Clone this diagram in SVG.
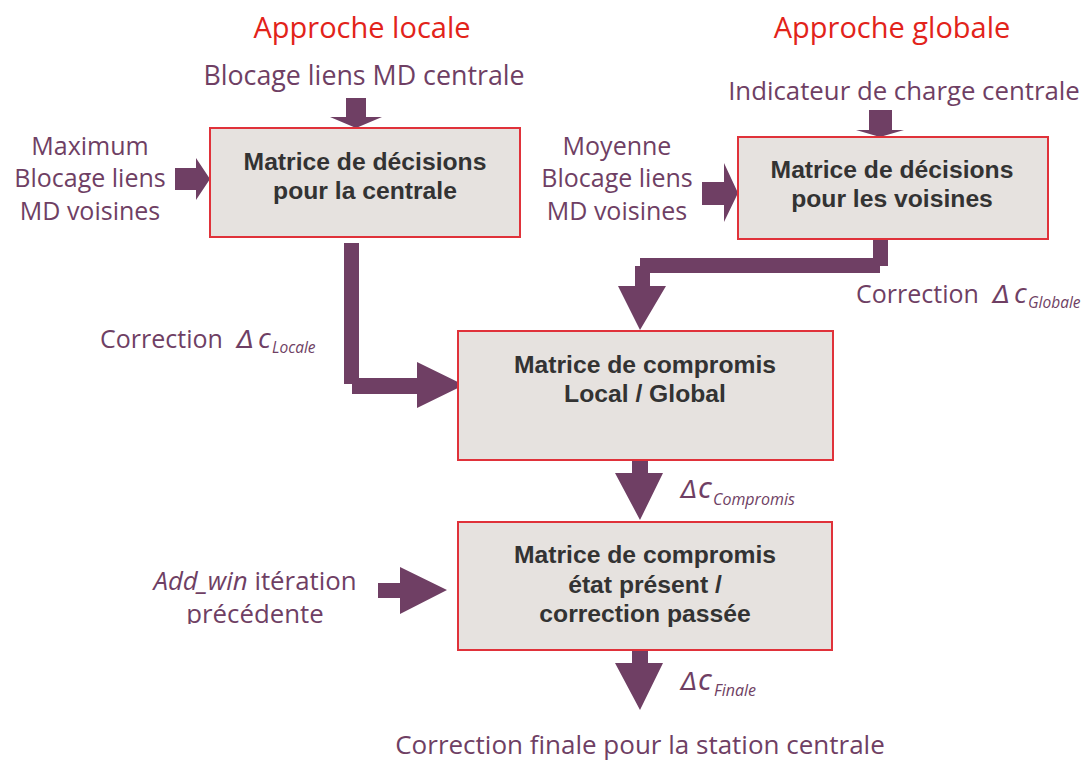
<svg xmlns="http://www.w3.org/2000/svg" width="1082" height="760" viewBox="0 0 1082 760">
<style>
.box{fill:#e6e2df;stroke:#e0323a;stroke-width:2}
.bt{font-family:"Liberation Sans",Arial,sans-serif;font-weight:bold;font-size:24.7px;fill:#333333;text-anchor:middle}
.lbl{font-family:"Open Sans","Noto Sans",sans-serif;font-size:25px;fill:#6f3f64}
.ttl{font-family:"Open Sans","Noto Sans",sans-serif;font-size:29px;fill:#e2231a;text-anchor:middle}
.mid{text-anchor:middle}
.it{font-style:italic}
.dl{font-family:"DejaVu Sans","Open Sans",sans-serif;font-style:italic;font-weight:200;fill:#6f3f64}
.arr{fill:#6f3f64}
</style>
<defs>
<clipPath id="clipPrec"><rect x="0" y="560" width="450" height="64"/></clipPath>
</defs>
<rect width="1082" height="760" fill="#ffffff"/>

<g id="titles">
<text class="ttl" x="362" y="38">Approche locale</text>
<text class="ttl" x="892" y="38">Approche globale</text>
</g>

<g id="connectors">
<polygon class="arr" points="346,98 366,98 366,117 382,117 356,128 330,117 346,117"/>
<polygon class="arr" points="175,168 196,168 196,158 210,179 196,200 196,190 175,190"/>
<polygon class="arr" points="869,110 892,110 892,130 904,130 880,137 856,130 869,130"/>
<polygon class="arr" points="702,182 724,182 724,163 738,193 724,222 724,205 702,205"/>
<polygon class="arr" points="344,243 359,243 359,378 417,378 417,362 464,385 417,408 417,394 352,394 352,384 344,384"/>
<polygon class="arr" points="873,238 888,238 888,266 880,266 880,273 650,273 650,286 666,286 640,330 618,286 635,286 635,266 640,266 640,258 873,258"/>
<polygon class="arr" points="632,460 648,460 648,473 663,473 640,520 615,473 632,473"/>
<polygon class="arr" points="632,650 648,650 648,663 663,663 640,710 615,663 632,663"/>
<polygon class="arr" points="378,583 400,583 400,567 447,590 400,614 400,598 378,598"/>
</g>

<g id="in-centrale">
<text class="lbl mid" x="364" y="85" style="font-size:26.8px">Blocage liens MD centrale</text>
</g>
<g id="in-max">
<text class="lbl mid" x="90" y="155">Maximum</text>
<text class="lbl mid" x="90" y="187">Blocage liens</text>
<text class="lbl mid" x="90" y="220">MD voisines</text>
</g>
<g id="in-charge">
<text class="lbl mid" x="904" y="100" style="font-size:25.8px">Indicateur de charge centrale</text>
</g>
<g id="in-moy">
<text class="lbl mid" x="617" y="155">Moyenne</text>
<text class="lbl mid" x="617" y="187">Blocage liens</text>
<text class="lbl mid" x="617" y="220">MD voisines</text>
</g>

<g id="node-centrale">
<rect class="box" x="210" y="128" width="310" height="109"/>
<text class="bt" x="365" y="170">Matrice de décisions</text>
<text class="bt" x="365" y="199">pour la centrale</text>
</g>
<g id="node-voisines">
<rect class="box" x="738" y="137" width="310" height="102"/>
<text class="bt" x="892" y="178">Matrice de décisions</text>
<text class="bt" x="892" y="207">pour les voisines</text>
</g>
<g id="node-compromis-lg">
<rect class="box" x="458" y="331" width="375" height="129"/>
<text class="bt" x="645" y="373">Matrice de compromis</text>
<text class="bt" x="645" y="402">Local / Global</text>
</g>
<g id="node-compromis-ep">
<rect class="box" x="458" y="522" width="374" height="128"/>
<text class="bt" x="645" y="563">Matrice de compromis</text>
<text class="bt" x="645" y="593">état présent /</text>
<text class="bt" x="645" y="622">correction passée</text>
</g>

<g id="lbl-locale">
<text class="lbl" x="100" y="348">Correction</text>
<text class="dl" x="237" y="348" style="font-size:25px">Δ</text>
<text class="lbl it" x="258" y="348" style="font-size:28px">c</text>
<text class="lbl it" x="272" y="353" style="font-size:15.5px">Locale</text>
</g>
<g id="lbl-globale">
<text class="lbl" x="856" y="303">Correction</text>
<text class="dl" x="993" y="303" style="font-size:25px">Δ</text>
<text class="lbl it" x="1014" y="303" style="font-size:28px">c</text>
<text class="lbl it" x="1028" y="308" style="font-size:15.5px">Globale</text>
</g>
<g id="lbl-compromis">
<text class="dl" x="681" y="498" style="font-size:24px">Δ</text>
<text class="lbl it" x="698" y="498" style="font-size:22px;font-weight:600">C</text>
<text class="lbl it" x="713" y="505" style="font-size:16px">Compromis</text>
</g>
<g id="in-addwin">
<text class="lbl mid" x="255" y="590" style="font-size:25.8px"><tspan class="it">Add_win</tspan> itération</text>
<text class="lbl mid" x="255" y="623" clip-path="url(#clipPrec)" style="font-size:25.8px">précédente</text>
</g>
<g id="lbl-finale">
<text class="dl" x="681" y="690" style="font-size:24px">Δ</text>
<text class="lbl it" x="698" y="690" style="font-size:22px;font-weight:600">C</text>
<text class="lbl it" x="714" y="696" style="font-size:16px">Finale</text>
</g>
<g id="out-finale">
<text class="lbl mid" x="640" y="754" style="font-size:26px">Correction finale pour la station centrale</text>
</g>
</svg>
